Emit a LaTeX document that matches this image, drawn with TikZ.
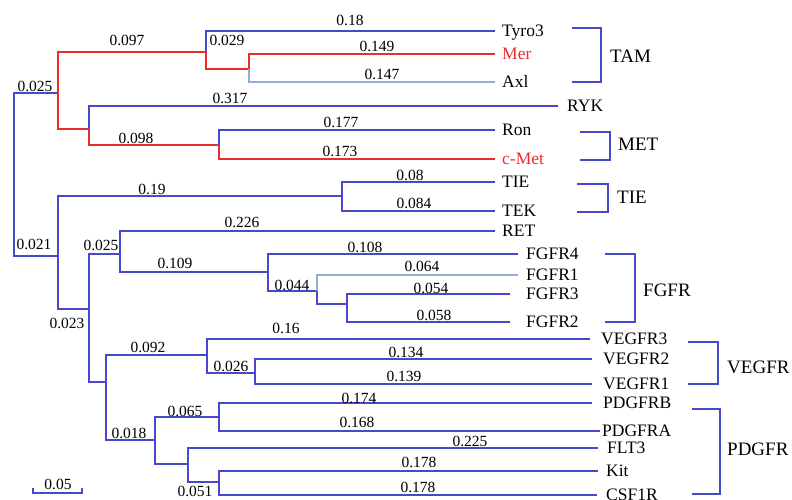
\documentclass[tikz,border=0pt]{standalone}
\usepackage{fontspec}
\setmainfont{Liberation Serif}
\usepackage{xcolor}
\definecolor{treeblue}{RGB}{72,72,205}
\definecolor{treered}{RGB}{235,45,45}
\definecolor{treepale}{RGB}{150,170,215}

\begin{document}
\begin{tikzpicture}[
    x=1pt, y=-1pt,
    branch/.style={draw=treeblue, line width=1.1pt},
    redbranch/.style={draw=treered, line width=1.1pt},
    palebranch/.style={draw=treepale, line width=1.1pt},
    leaf/.style={anchor=west, inner xsep=7pt, inner ysep=0pt, text height=11.5pt, text depth=0pt, font=\fontsize{17.5}{20}\selectfont},
    len/.style={inner sep=0pt, font=\fontsize{15.5}{18}\selectfont},
    clade/.style={anchor=west, inner sep=0pt, font=\fontsize{19}{22}\selectfont},
    bracket/.style={draw=treeblue, line width=1.1pt}
]
\useasboundingbox (0,0) rectangle (792,499);

% Internal tree nodes
\coordinate (root) at (14,175);
\coordinate (top) at (58,93);
\coordinate (tam) at (206,52);
\coordinate (merax) at (249,69);
\coordinate (rykmet) at (89,129);
\coordinate (met) at (219,145);
\coordinate (low) at (58,256);
\coordinate (tiek) at (342,196);
\coordinate (rest) at (89,309);
\coordinate (retf) at (120,254);
\coordinate (fgfr) at (268,272);
\coordinate (fgfr13) at (317,291);
\coordinate (fgfr32) at (347,304);
\coordinate (vp) at (106,382);
\coordinate (vegfr) at (207,355);
\coordinate (vegfr21) at (255,373);
\coordinate (pdgfr) at (155,440);
\coordinate (pdgfrba) at (219,417);
\coordinate (flt) at (188,464);
\coordinate (kitcsf) at (219,482);

% Leaves
\node[leaf] (tyro3) at (495,31) {Tyro3};
\node[leaf, text=treered] (mer) at (495,54) {Mer};
\node[leaf] (axl) at (495,82) {Axl};
\node[leaf, inner xsep=9pt] (ryk) at (558,106) {RYK};
\node[leaf] (ron) at (495,130) {Ron};
\node[leaf, text=treered] (cmet) at (495,159) {c-Met};
\node[leaf] (tie) at (495,182) {TIE};
\node[leaf] (tek) at (495,211) {TEK};
\node[leaf] (ret) at (495,231) {RET};
\node[leaf, inner xsep=8pt] (fgfr4) at (518,254) {FGFR4};
\node[leaf, inner xsep=8pt] (fgfr1) at (518,275) {FGFR1};
\node[leaf, inner xsep=16pt] (fgfr3) at (510,294) {FGFR3};
\node[leaf, inner xsep=16pt] (fgfr2) at (510,322) {FGFR2};
\node[leaf, inner xsep=11pt] (vegfr3) at (590,339) {VEGFR3};
\node[leaf, inner xsep=11pt] (vegfr2) at (592,359) {VEGFR2};
\node[leaf, inner xsep=11pt] (vegfr1) at (592,384) {VEGFR1};
\node[leaf, inner xsep=11pt] (pdgfrb) at (592,403) {PDGFRB};
\node[leaf, inner xsep=2pt] (pdgfra) at (600,431) {PDGFRA};
\node[leaf, inner xsep=9pt] (flt3) at (598,448) {FLT3};
\node[leaf, inner xsep=8pt] (kit) at (598,471) {Kit};
\node[leaf, inner xsep=9pt] (csf1r) at (597,495) {CSF1R};

% Branches
\draw[branch] (root) |- (top);
\draw[branch] (root) |- (low);
\draw[redbranch] (top) |- (tam);
\draw[redbranch] (top) |- (rykmet);
\draw[branch] (tam) |- (tyro3.west);
\draw[redbranch] (tam) |- (merax);
\draw[redbranch] (merax) |- (mer.west);
\draw[palebranch] (merax) |- (axl.west);
\draw[branch] (rykmet) |- (ryk.west);
\draw[redbranch] (rykmet) |- (met);
\draw[branch] (met) |- (ron.west);
\draw[redbranch] (met) |- (cmet.west);

\draw[branch] (low) |- (tiek);
\draw[branch] (tiek) |- (tie.west);
\draw[branch] (tiek) |- (tek.west);
\draw[branch] (low) |- (rest);
\draw[branch] (rest) |- (retf);
\draw[branch] (retf) |- (ret.west);
\draw[branch] (retf) |- (fgfr);
\draw[branch] (fgfr) |- (fgfr4.west);
\draw[branch] (fgfr) |- (fgfr13);
\draw[palebranch] (fgfr13) |- (fgfr1.west);
\draw[branch] (fgfr13) |- (fgfr32);
\draw[branch] (fgfr32) |- (fgfr3.west);
\draw[branch] (fgfr32) |- (fgfr2.west);

\draw[branch] (rest) |- (vp);
\draw[branch] (vp) |- (vegfr);
\draw[branch] (vegfr) |- (vegfr3.west);
\draw[branch] (vegfr) |- (vegfr21);
\draw[branch] (vegfr21) |- (vegfr2.west);
\draw[branch] (vegfr21) |- (vegfr1.west);
\draw[branch] (vp) |- (pdgfr);
\draw[branch] (pdgfr) |- (pdgfrba);
\draw[branch] (pdgfrba) |- (pdgfrb.west);
\draw[branch] (pdgfrba) |- (pdgfra.west);
\draw[branch] (pdgfr) |- (flt);
\draw[branch] (flt) |- (flt3.west);
\draw[branch] (flt) |- (kitcsf);
\draw[branch] (kitcsf) |- (kit.west);
\draw[branch] (kitcsf) |- (csf1r.west);

% Branch lengths
\node[len] (l1) at (35,86) {0.025};
\node[len] (l2) at (127,40) {0.097};
\node[len] (l3) at (227,40) {0.029};
\node[len] (l4) at (350,20) {0.18};
\node[len] (l5) at (377,46) {0.149};
\node[len] (l6) at (382,74) {0.147};
\node[len] (l7) at (230,98) {0.317};
\node[len] (l8) at (136,138) {0.098};
\node[len] (l9) at (341,122) {0.177};
\node[len] (l10) at (340,151) {0.173};
\node[len] (l11) at (152,189) {0.19};
\node[len] (l12) at (410,175) {0.08};
\node[len] (l13) at (414,203) {0.084};
\node[len] (l14) at (242,222) {0.226};
\node[len] (l15) at (34,244) {0.021};
\node[len] (l16) at (101,245) {0.025};
\node[len] (l17) at (175,263) {0.109};
\node[len] (l18) at (67,323) {0.023};
\node[len] (l19) at (365,247) {0.108};
\node[len] (l20) at (422,266) {0.064};
\node[len] (l21) at (292,285) {0.044};
\node[len] (l22) at (431,288) {0.054};
\node[len] (l23) at (434,315) {0.058};
\node[len] (l24) at (286,328) {0.16};
\node[len] (l25) at (148,347) {0.092};
\node[len] (l26) at (231,366) {0.026};
\node[len] (l27) at (406,352) {0.134};
\node[len] (l28) at (404,376) {0.139};
\node[len] (l29) at (185,411) {0.065};
\node[len] (l30) at (129,433) {0.018};
\node[len] (l31) at (359,398) {0.174};
\node[len] (l32) at (357,422) {0.168};
\node[len] (l33) at (470,441) {0.225};
\node[len] (l34) at (419,462) {0.178};
\node[len] (l35) at (418,487) {0.178};
\node[len] (l36) at (195,491) {0.051};

% Families
\draw[bracket] (572,28) -| (601,82) -- (572,82);
\node[clade] (tamlab) at (610,56) {TAM};
\draw[bracket] (580,132) -| (610,160) -- (580,160);
\node[clade] (metlab) at (618,144) {MET};
\draw[bracket] (577,184) -| (608,212) -- (577,212);
\node[clade] (tielab) at (617,197) {TIE};
\draw[bracket] (605,254) -| (635,322) -- (605,322);
\node[clade] (fgfrlab) at (643,290) {FGFR};
\draw[bracket] (688,342) -| (718,384) -- (688,384);
\node[clade] (vegfrlab) at (727,367) {VEGFR};
\draw[bracket] (692,409) -| (720,494) -- (692,494);
\node[clade] (pdgfrlab) at (727,449) {PDGFR};

% Scale bar
\draw[branch] (33,488) -- (33,493) -- (82,493) -- (82,488);
\node[len] (scale) at (58,484) {0.05};

\end{tikzpicture}
\end{document}
